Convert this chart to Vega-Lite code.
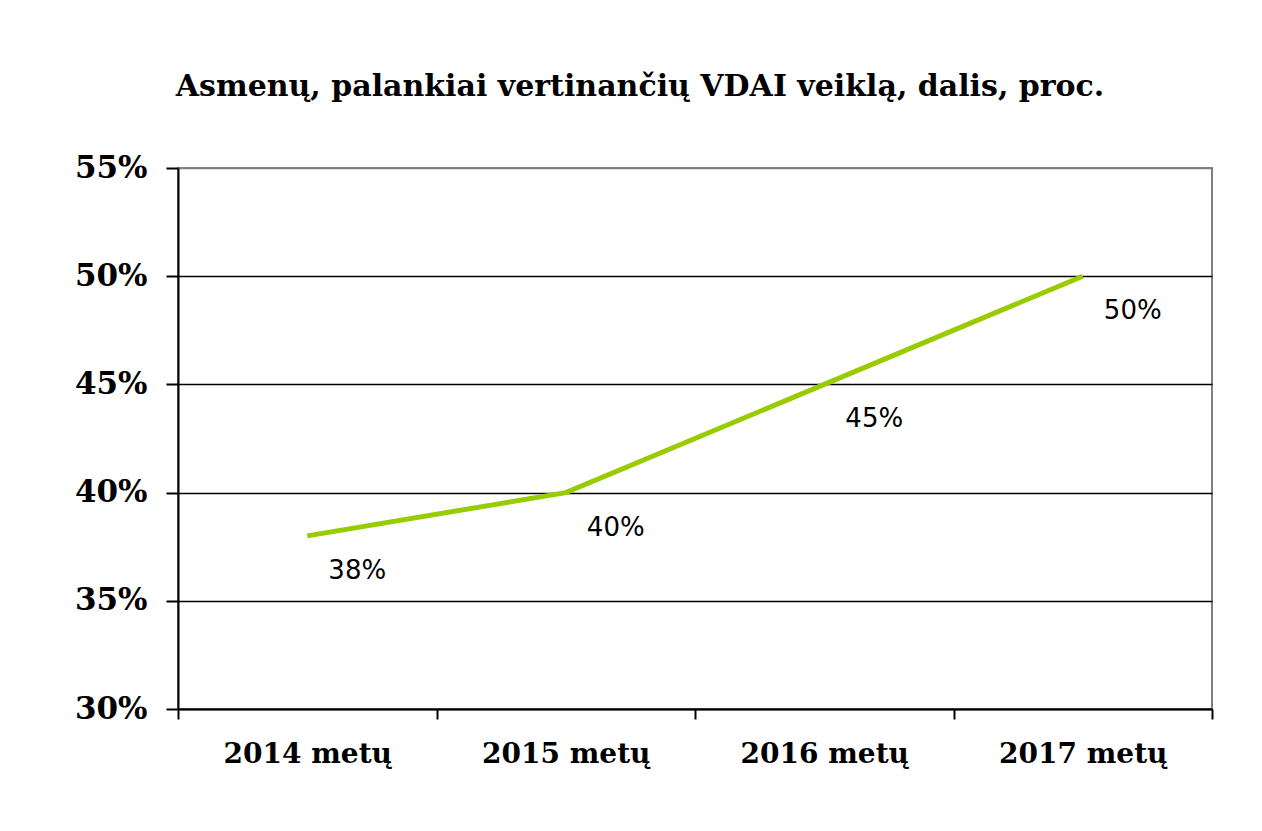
{
  "$schema": "https://vega.github.io/schema/vega-lite/v6.json",
  "width": 1034,
  "height": 541,
  "autosize": {"type": "none"},
  "padding": {"left": 178, "top": 168, "right": 50, "bottom": 122},
  "background": "white",
  "title": {
    "text": "Asmenų, palankiai vertinančių VDAI veiklą, dalis, proc.",
    "font": "DejaVu Serif",
    "fontSize": 30,
    "fontWeight": "bold",
    "color": "black",
    "anchor": "middle",
    "dx": -55,
    "offset": 50
  },
  "config": {
    "view": {"stroke": "#808080", "strokeWidth": 2}
  },
  "data": {
    "values": [
      {"metai": "2014 metų", "dalis": 0.38},
      {"metai": "2015 metų", "dalis": 0.40},
      {"metai": "2016 metų", "dalis": 0.45},
      {"metai": "2017 metų", "dalis": 0.50}
    ]
  },
  "encoding": {
    "x": {
      "field": "metai",
      "type": "nominal",
      "sort": null,
      "scale": {"paddingInner": 0, "paddingOuter": 0},
      "axis": {
        "title": null,
        "labelAngle": 0,
        "tickBand": "extent",
        "tickSize": 10,
        "tickColor": "black",
        "tickWidth": 2,
        "domainColor": "black",
        "domainWidth": 2,
        "grid": false,
        "labelFont": "DejaVu Serif",
        "labelFontWeight": "bold",
        "labelFontSize": 28,
        "labelColor": "black",
        "labelPadding": 21
      }
    },
    "y": {
      "field": "dalis",
      "type": "quantitative",
      "scale": {"domain": [0.30, 0.55], "nice": false, "zero": false},
      "axis": {
        "title": null,
        "format": ".0%",
        "values": [0.30, 0.35, 0.40, 0.45, 0.50, 0.55],
        "tickSize": 12,
        "tickColor": "black",
        "tickWidth": 2,
        "domainColor": "black",
        "domainWidth": 2,
        "grid": true,
        "gridColor": {"condition": {"test": "datum.value >= 0.549", "value": "#808080"}, "value": "black"},
        "gridWidth": 1.5,
        "gridOpacity": 1,
        "labelFont": "DejaVu Serif",
        "labelFontWeight": "bold",
        "labelFontSize": 31,
        "labelColor": "black",
        "labelPadding": 19
      }
    }
  },
  "layer": [
    {
      "mark": {"type": "line", "color": "#99CC00", "strokeWidth": 5}
    },
    {
      "mark": {
        "type": "text",
        "dx": 50,
        "dy": 35,
        "font": "DejaVu Sans",
        "fontSize": 26,
        "color": "black",
        "align": "center",
        "baseline": "middle"
      },
      "encoding": {
        "text": {"field": "dalis", "type": "quantitative", "format": ".0%"}
      }
    }
  ]
}
